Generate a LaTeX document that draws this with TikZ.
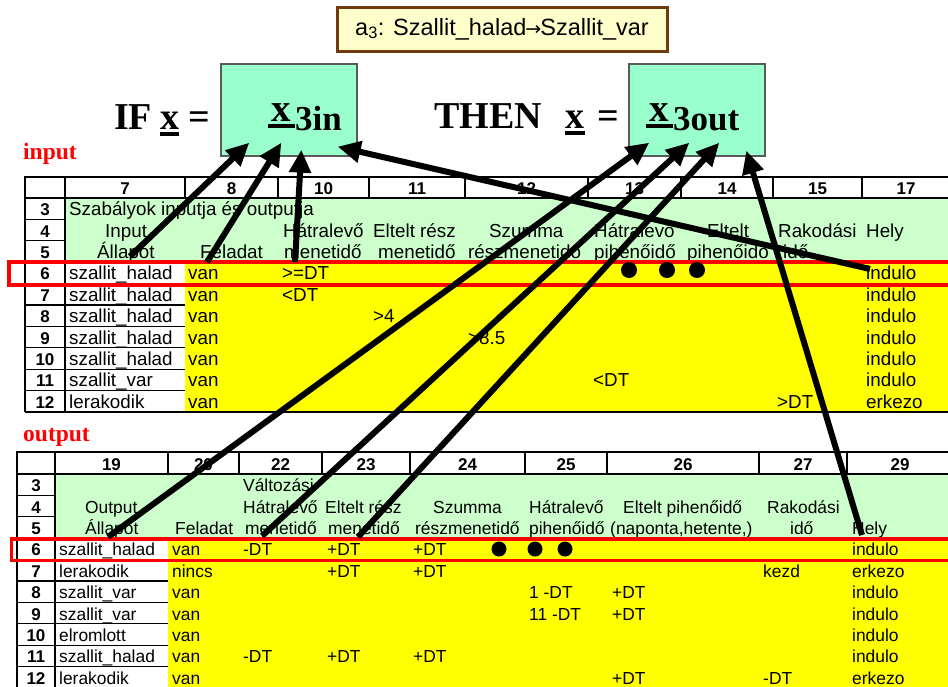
\documentclass[tikz,border=0pt]{standalone}
\usepackage{fontspec}
\setmainfont{Liberation Sans}
\newfontfamily\tms{Liberation Serif}
\newfontfamily\djv{DejaVu Sans}
\usetikzlibrary{arrows.meta}
\definecolor{hdrgreen}{HTML}{CCFFCC}
\definecolor{datayellow}{HTML}{FFFF00}
\definecolor{mint}{HTML}{99FFCC}
\definecolor{notefill}{HTML}{FFFFCC}
\definecolor{notebrown}{HTML}{6E3B0E}
% thick underline of a given width under a glyph
\newcommand\thul[2]{\rlap{\rule[-6.5pt]{#1}{4pt}}\makebox[#1][c]{#2}}
% underlined state vector with a large lowered index
\newcommand\statevec[1]{\thul{27pt}{x}\raisebox{-9pt}{\fontsize{35}{40}\selectfont #1}}

\begin{document}
\begin{tikzpicture}[x=1pt,y=-1pt,
  tin/.style={font=\fontsize{18.8}{20}\selectfont,anchor=base west,inner sep=0pt},
  tout/.style={font=\fontsize{17.4}{20}\selectfont,anchor=base west,inner sep=0pt},
  num/.style={font=\bfseries\fontsize{17}{20}\selectfont,anchor=base,inner sep=0pt},
  gridline/.style={line width=1.6pt},
  cellline/.style={line width=1.2pt},
  rowmark/.style={draw=red,line width=3.5pt},
  mintbox/.style={draw=black!65,line width=1.3pt,fill=mint,minimum width=136pt,minimum height=92pt,inner sep=0pt},
  formula/.style={font=\tms\bfseries\fontsize{38}{40}\selectfont,anchor=base west,inner sep=0pt},
  boxlbl/.style={font=\tms\bfseries\fontsize{39}{40}\selectfont,anchor=base west,inner sep=0pt},
  seclbl/.style={font=\tms\bfseries\fontsize{23.5}{24}\selectfont,text=red,anchor=base west,inner sep=0pt},
  link/.style={line width=6pt,-{Triangle[length=23pt,width=21pt]}},
  dot/.style={fill=black}
]
\useasboundingbox (0,0) rectangle (948,686);
\fill[white] (0,0) rectangle (948,686);
\begin{scope}
\clip (0,0) rectangle (948,686);

% ---------- title note ----------
\node[draw=notebrown,line width=3pt,fill=notefill,minimum width=330pt,minimum height=44pt,inner sep=0pt,
      font=\fontsize{23.5}{24}\selectfont] (note) at (502,29)
      {a\textsubscript{3}: Szallit\_halad{\djv\fontsize{19}{20}\selectfont\kern-1pt→\kern-1pt}Szallit\_var};

% ---------- rule line ----------
\node[formula] (ifw) at (114,129) {IF};
\node[formula] (ifx) at (160,129) {\thul{19pt}{x}};
\node[formula] (ifeq) at (188,129) {=};
\node[mintbox] (xin) at (289,110) {};
\node[boxlbl] (xinlbl) at (268,121) {\statevec{3in}};

\node[formula] (thenw) at (434,128) {THEN};
\node[formula] (thenx) at (565,128) {\thul{20pt}{x}};
\node[formula] (theneq) at (597,128) {=};
\node[mintbox] (xout) at (697,110) {};
\node[boxlbl] (xoutlbl) at (646,121) {\statevec{3out}};

\node[seclbl] (inlbl) at (23,159) {input};
\node[seclbl] (outlbl) at (23,441) {output};

% ---------- input table ----------
\fill[hdrgreen] (65,198) rectangle (960,262.2);
\fill[datayellow] (185,262.2) rectangle (960,412);
\draw[gridline] (25,177) rectangle (960,198);
\foreach \x in {65,185,278,369,465,588,681,773,862}
  \draw[gridline] (\x,177) -- (\x,198);
\draw[gridline] (25,198) -- (25,412);
\draw[gridline] (65,198) -- (65,412);
\foreach \i in {1,...,9}
  \draw[cellline] (25,{198+21.4*\i}) -- (65,{198+21.4*\i});
\foreach \i in {3,...,9}
  \draw[cellline] (65,{198+21.4*\i}) -- (185,{198+21.4*\i});
\draw[gridline] (25,412) -- (960,412);

\foreach \c/\x in {7/125,8/231.5,10/323.5,11/417,12/526.5,13/634.5,14/727,15/817.5,17/906}
  \node[num] (inc\c) at (\x,194.5) {\c};
\foreach \r [count=\i from 0] in {3,...,12}
  \node[num] (inr\r) at (45,{198+21.4*\i+17.6}) {\r};

\node[tin] (inh3) at (69,215.6) {Szabályok inputja és outputja};
\node[tin] (inh4a) at (105,237) {Input};
\node[tin] (inh4b) at (283,237) {Hátralevő};
\node[tin] (inh4c) at (373,237) {Eltelt rész};
\node[tin] (inh4d) at (489,237) {Szumma};
\node[tin] (inh4e) at (594,237) {Hátralevő};
\node[tin] (inh4f) at (707,237) {Eltelt};
\node[tin] (inh4g) at (778,237) {Rakodási};
\node[tin] (inh4h) at (866,237) {Hely};
\node[tin] (inh5a) at (97,258.4) {Állapot};
\node[tin] (inh5b) at (200,258.4) {Feladat};
\node[tin] (inh5c) at (284,258.4) {menetidő};
\node[tin] (inh5d) at (378,258.4) {menetidő};
\node[tin] (inh5e) at (468,258.4) {részmenetidő};
\node[tin] (inh5f) at (594,258.4) {pihenőidő};
\node[tin] (inh5g) at (687,258.4) {pihenőido};
\node[tin] (inh5h) at (783,258.4) {idő};

\foreach \st/\hely [count=\i from 0] in {szallit\_halad/indulo,szallit\_halad/indulo,szallit\_halad/indulo,szallit\_halad/indulo,szallit\_halad/indulo,szallit\_var/indulo,lerakodik/erkezo}
{
  \node[tin] (ins\i) at (69,{262.2+21.4*\i+17.6}) {\st};
  \node[tin] (inf\i) at (188,{262.2+21.4*\i+17.6}) {van};
  \node[tin] (inp\i) at (866,{262.2+21.4*\i+17.6}) {\hely};
}
\node[tin] (inv6) at (282,279.8) {>=DT};
\node[tin] (inv7) at (282,301.2) {<DT};
\node[tin] (inv8) at (373,322.6) {>4};
\node[tin] (inv9) at (468,344) {>8.5};
\node[tin] (inv11) at (593,386.8) {<DT};
\node[tin] (inv12) at (777,408.2) {>DT};

% ---------- output table ----------
\fill[hdrgreen] (55,474) rectangle (960,538.2);
\fill[datayellow] (168,538.2) rectangle (960,700);
\draw[gridline] (17,452) rectangle (960,474);
\foreach \x in {55,168,239,322,410,525,607,759,847}
  \draw[gridline] (\x,452) -- (\x,474);
\draw[gridline] (17,474) -- (17,700);
\draw[gridline] (55,474) -- (55,700);
\foreach \i in {1,...,9}
  \draw[cellline] (17,{474+21.4*\i}) -- (55,{474+21.4*\i});
\foreach \i in {3,...,9}
  \draw[cellline] (55,{474+21.4*\i}) -- (168,{474+21.4*\i});

\foreach \c/\x in {19/111.5,20/203.5,22/280.5,23/366,24/467.5,25/566,26/683,27/803,29/900}
  \node[num] (outc\c) at (\x,470.5) {\c};
\foreach \r [count=\i from 0] in {3,...,12}
  \node[num] (outr\r) at (36,{474+21.4*\i+17.6}) {\r};

\node[tout] (outh3) at (243,491.6) {Változási};
\node[tout] (outh4a) at (85,513) {Output};
\node[tout] (outh4b) at (243,513) {Hátralevő};
\node[tout] (outh4c) at (325,513) {Eltelt rész};
\node[tout] (outh4d) at (433,513) {Szumma};
\node[tout] (outh4e) at (529,513) {Hátralevő};
\node[tout] (outh4f) at (623,513) {Eltelt pihenőidő};
\node[tout] (outh4g) at (767,513) {Rakodási};
\node[tout] (outh5a) at (85,534.4) {Állapot};
\node[tout] (outh5b) at (175,534.4) {Feladat};
\node[tout] (outh5c) at (245,534.4) {menetidő};
\node[tout] (outh5d) at (328,534.4) {menetidő};
\node[tout] (outh5e) at (415,534.4) {részmenetidő};
\node[tout] (outh5f) at (529,534.4) {pihenőidő};
\node[tout] (outh5g) at (610,534.4) {(naponta,hetente,)};
\node[tout] (outh5h) at (790,534.4) {idő};
\node[tout] (outh5i) at (852,534.4) {Hely};

\foreach \st/\fel/\hely [count=\i from 0] in {szallit\_halad/van/indulo,lerakodik/nincs/erkezo,szallit\_var/van/indulo,szallit\_var/van/indulo,elromlott/van/indulo,szallit\_halad/van/indulo,lerakodik/van/erkezo}
{
  \node[tout] (outs\i) at (59,{538.2+21.4*\i+17.6}) {\st};
  \node[tout] (outf\i) at (172,{538.2+21.4*\i+17.6}) {\fel};
  \node[tout] (outp\i) at (852,{538.2+21.4*\i+17.6}) {\hely};
}
\node[tout] (o6a) at (243,555.8) {-DT};
\node[tout] (o6b) at (327,555.8) {+DT};
\node[tout] (o6c) at (413,555.8) {+DT};
\node[tout] (o7a) at (327,577.2) {+DT};
\node[tout] (o7b) at (413,577.2) {+DT};
\node[tout] (o7c) at (763,577.2) {kezd};
\node[tout] (o8a) at (529,598.6) {1 -DT};
\node[tout] (o8b) at (612,598.6) {+DT};
\node[tout] (o9a) at (529,620) {11 -DT};
\node[tout] (o9b) at (612,620) {+DT};
\node[tout] (o11a) at (243,662.8) {-DT};
\node[tout] (o11b) at (327,662.8) {+DT};
\node[tout] (o11c) at (413,662.8) {+DT};
\node[tout] (o12a) at (612,684.2) {+DT};
\node[tout] (o12b) at (763,684.2) {-DT};

% ---------- highlighted rule rows ----------
\draw[rowmark] (9,262) rectangle (970,285);
\draw[rowmark] (11.5,539) rectangle (970,560.5);

% ellipsis dots
\foreach \x in {629,667,697} \fill[dot] (\x,270) circle (8pt);
\foreach \x in {499,535,565} \fill[dot] (\x,549) circle (7.5pt);

% ---------- links from table cells to the state vectors ----------
\draw[link] ([shift={(33,-2)}]inh5a.base west) -- ([shift={(29,-14)}]xin.south west);
\draw[link] ([shift={(7,3.6)}]inh5b.base west) -- ([shift={(61,-14)}]xin.south west);
\draw[link] ([shift={(11,3.6)}]inh5c.base west) -- ([shift={(81,-7)}]xin.south west);
\draw[link] ([shift={(4,-10.8)}]inp0.base west) -- ([shift={(-20,-10)}]xin.south east);

\draw[link] ([shift={(23,2.6)}]outh5a.base west) -- ([shift={(21,-14)}]xout.south west);
\draw[link] ([shift={(17,1.6)}]outh5c.base west) -- ([shift={(61,-14)}]xout.south west);
\draw[link] ([shift={(30,2.6)}]outh5d.base west) -- ([shift={(91,-14)}]xout.south west);
\draw[link] ([shift={(10,0.6)}]outh5i.base west) -- ([shift={(118,-6)}]xout.south west);
\end{scope}
\end{tikzpicture}
\end{document}
